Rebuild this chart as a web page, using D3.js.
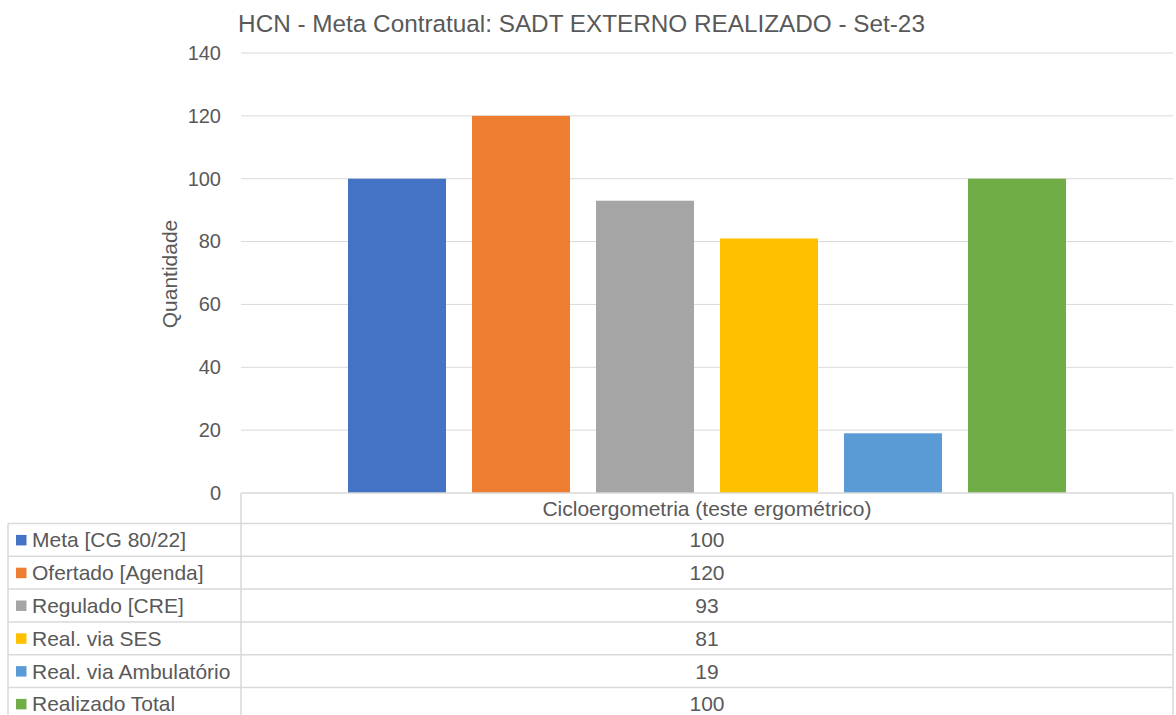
<!DOCTYPE html>
<html>
<head>
<meta charset="utf-8">
<script src="https://cdn.jsdelivr.net/npm/d3@7"></script>
<style>
body{margin:0;background:#fff;}
text{font-family:"Liberation Sans",Arial,sans-serif;fill:#595959;}
</style>
</head>
<body>
<div id="chart"></div>
<script>
const title="HCN - Meta Contratual: SADT EXTERNO REALIZADO - Set-23";
const category="Cicloergometria (teste ergométrico)";
const series=["Meta [CG 80/22]","Ofertado [Agenda]","Regulado [CRE]","Real. via SES","Real. via Ambulatório","Realizado Total"];
const values=[100,120,93,81,19,100];
const colors=["#4472C4","#ED7D31","#A5A5A5","#FFC000","#5B9BD5","#70AD47"];
const yTicks=[0,20,40,60,80,100,120,140];

const w=1176;
const h=715;

const svg=d3.select("#chart").append("svg").attr("width",w).attr("height",h);

const plotL=241, plotR=1173, plotT=53, plotB=493;
const y=d3.scaleLinear().domain([0,140]).range([plotB,plotT]);

// gridlines
svg.append("g").selectAll("line").data(yTicks.slice(1)).enter().append("line")
  .attr("x1",plotL).attr("x2",plotR)
  .attr("y1",d=>y(d)).attr("y2",d=>y(d))
  .attr("stroke","#D9D9D9").attr("stroke-width",1);

const yAxis=svg.append("g").attr("transform",`translate(${plotL},0)`)
  .call(d3.axisLeft(y).tickValues(yTicks).tickSize(0).tickPadding(20));
yAxis.select(".domain").remove();
yAxis.selectAll("text").style("font-size","20px").attr("fill","#595959");

// bars
const x=d3.scaleBand().domain(series).range([335,1079]).paddingInner(26/124).paddingOuter(13/124);
svg.append("g").selectAll("rect").data(values).enter().append("rect")
  .attr("x",(d,i)=>x(series[i]))
  .attr("width",x.bandwidth())
  .attr("y",d=>y(d))
  .attr("height",d=>y(0)-y(d))
  .attr("fill",(d,i)=>colors[i]);

// title
svg.append("text").attr("x",581.5).attr("y",32).attr("text-anchor","middle")
  .style("font-size","24.3px").text(title);

// y axis title
svg.append("text").attr("transform","translate(177,274) rotate(-90)")
  .attr("text-anchor","middle").style("font-size","21px").text("Quantidade");

// data table
const rowH=32.8;
const headerB=plotB+30.5;
const lineC="#D9D9D9";
const tbl=svg.append("g");
const cx=(plotL+plotR)/2;

tbl.append("line").attr("x1",plotL).attr("x2",plotR).attr("y1",plotB).attr("y2",plotB).attr("stroke",lineC).attr("stroke-width",1.5);
tbl.append("line").attr("x1",plotL).attr("x2",plotL).attr("y1",plotB).attr("y2",h).attr("stroke",lineC).attr("stroke-width",1.5);
tbl.append("line").attr("x1",plotR).attr("x2",plotR).attr("y1",plotB).attr("y2",h).attr("stroke",lineC).attr("stroke-width",1.5);
tbl.append("line").attr("x1",8).attr("x2",8).attr("y1",headerB).attr("y2",h).attr("stroke",lineC).attr("stroke-width",1.5);
tbl.append("text").attr("x",cx).attr("y",headerB-7.5).attr("text-anchor","middle").style("font-size","21px").text(category);

series.forEach((s,i)=>{
  const top=headerB+i*rowH;
  tbl.append("line").attr("x1",8).attr("x2",plotR).attr("y1",top).attr("y2",top).attr("stroke",lineC).attr("stroke-width",1.5);
  tbl.append("rect").attr("x",16).attr("y",top+rowH/2-5).attr("width",10.5).attr("height",10.5).attr("fill",colors[i]);
  tbl.append("text").attr("x",32).attr("y",top+rowH/2+7.5).style("font-size","21px").text(s);
  tbl.append("text").attr("x",cx).attr("y",top+rowH/2+7.5).attr("text-anchor","middle").style("font-size","21px").text(values[i]);
});
</script>
</body>
</html>
